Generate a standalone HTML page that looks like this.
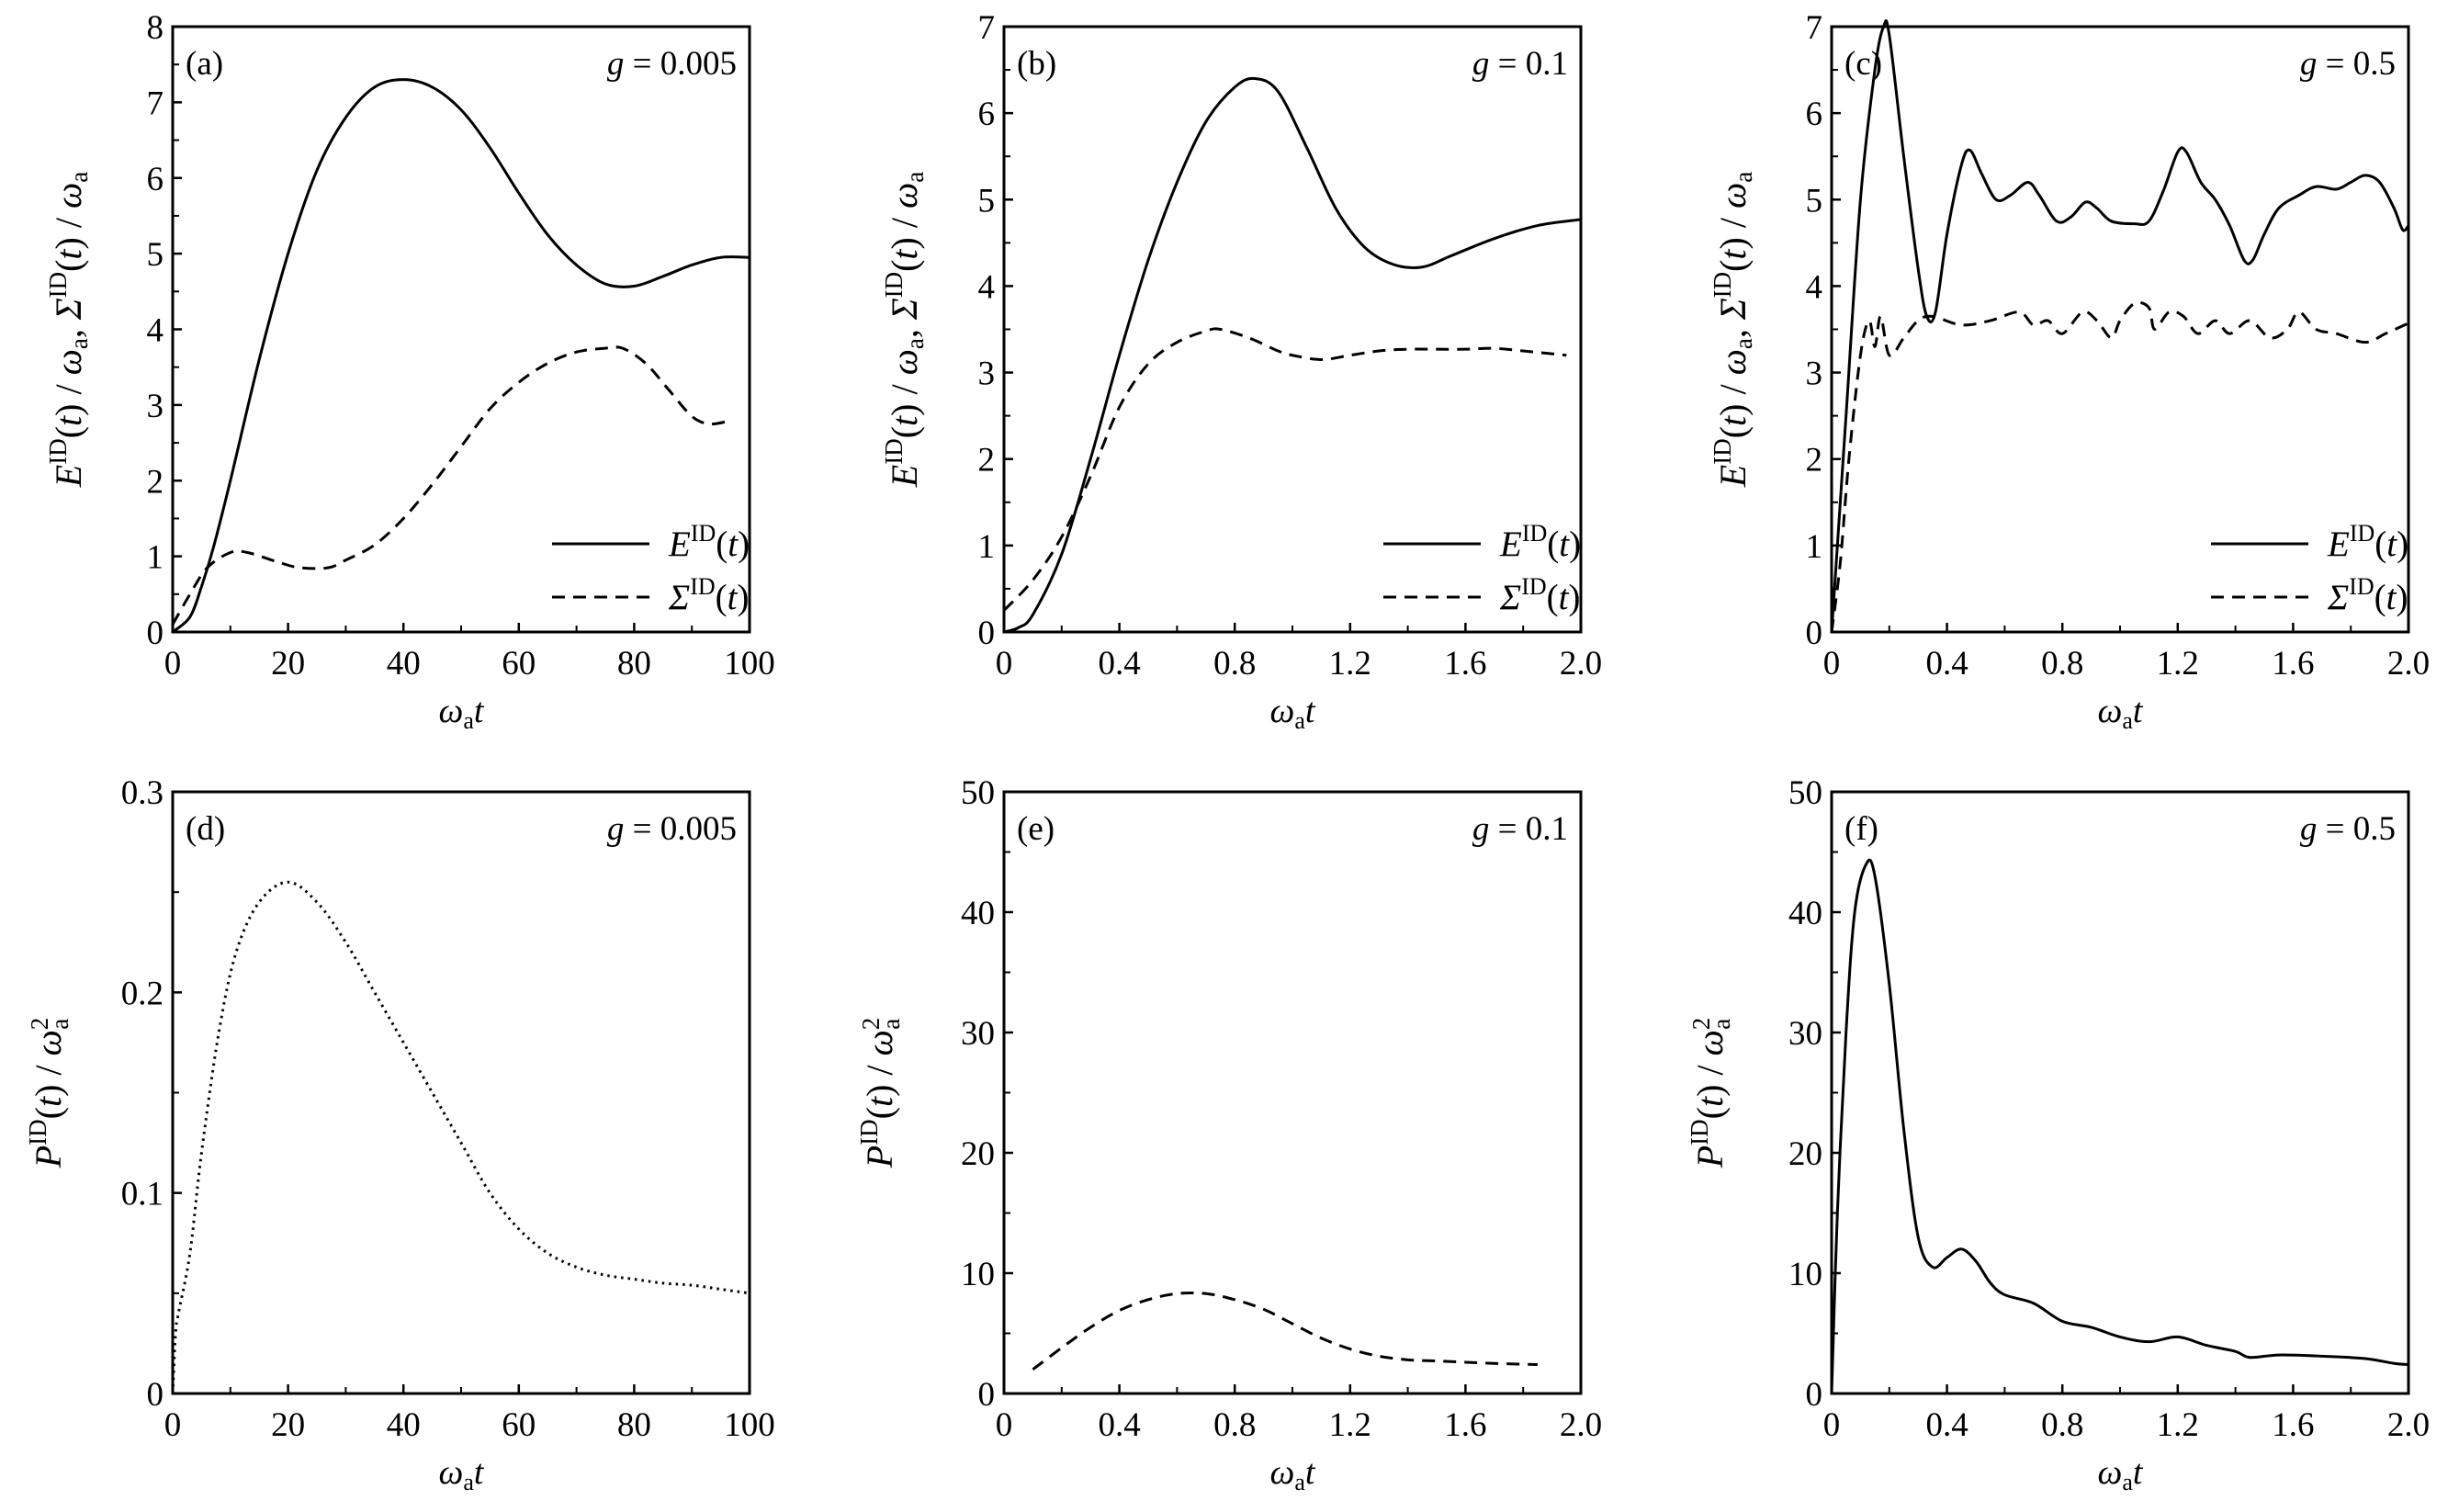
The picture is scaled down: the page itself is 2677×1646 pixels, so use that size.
<!DOCTYPE html>
<html><head><meta charset="utf-8"><style>
html,body{margin:0;padding:0;background:#fff}
svg{display:block;font-family:"Liberation Serif",serif}
</style></head><body>
<svg id="fig" width="2677" height="1646" viewBox="0 0 2677 1646" xmlns="http://www.w3.org/2000/svg"></svg>
<script>
// ---- data ----
const aEx=[0,3,5,7,10,15,20,25,30,35,40,45,50,55,60,65,70,75,80,85,90,95,100];
const aEy=[0,0.2,0.6,1.1,2.0,3.6,5.0,6.1,6.8,7.2,7.3,7.2,6.9,6.4,5.8,5.25,4.85,4.6,4.57,4.7,4.85,4.95,4.95];
const aSx=[0,3,6,10,13,18,22,27,30,35,40,45,50,55,60,65,70,75,78,82,86,90,93,96];
const aSy=[0.1,0.5,0.85,1.05,1.05,0.93,0.85,0.85,0.95,1.15,1.5,1.95,2.45,2.95,3.3,3.55,3.7,3.75,3.75,3.55,3.2,2.85,2.75,2.78];
const bEx=[0,0.05,0.1,0.2,0.3,0.4,0.5,0.6,0.7,0.8,0.87,0.95,1.05,1.15,1.25,1.35,1.45,1.55,1.7,1.85,2.0];
const bEy=[0,0.05,0.2,0.9,2.0,3.2,4.3,5.2,5.9,6.3,6.4,6.25,5.6,4.9,4.45,4.25,4.22,4.35,4.55,4.7,4.77];
const bSx=[0,0.1,0.2,0.3,0.4,0.5,0.6,0.7,0.75,0.85,0.95,1.0,1.1,1.2,1.3,1.4,1.5,1.6,1.7,1.8,1.95];
const bSy=[0.25,0.6,1.1,1.8,2.6,3.1,3.35,3.48,3.5,3.4,3.25,3.2,3.15,3.2,3.25,3.27,3.27,3.27,3.28,3.25,3.2];
const cEx=[0,0.05,0.1,0.15,0.18,0.2,0.25,0.3,0.33,0.36,0.4,0.45,0.48,0.52,0.57,0.62,0.68,0.72,0.78,0.83,0.88,0.92,0.97,1.05,1.1,1.15,1.2,1.23,1.28,1.33,1.38,1.43,1.46,1.5,1.55,1.62,1.68,1.75,1.8,1.85,1.9,1.95,1.98,2.0];
const cEy=[0,2.5,5.0,6.5,7.0,6.9,5.5,4.2,3.65,3.7,4.6,5.4,5.57,5.3,5.0,5.05,5.2,5.05,4.75,4.8,4.97,4.9,4.75,4.72,4.75,5.1,5.55,5.55,5.2,5.0,4.7,4.3,4.3,4.6,4.9,5.05,5.15,5.12,5.2,5.28,5.2,4.9,4.65,4.7];
const cSx=[0,0.03,0.06,0.1,0.13,0.15,0.17,0.2,0.25,0.3,0.35,0.45,0.55,0.65,0.7,0.75,0.8,0.87,0.92,0.97,1.0,1.05,1.1,1.12,1.17,1.22,1.27,1.33,1.38,1.45,1.52,1.58,1.62,1.68,1.75,1.85,1.92,2.0];
const cSy=[0,0.8,2.0,3.2,3.6,3.3,3.65,3.2,3.4,3.6,3.65,3.55,3.6,3.7,3.55,3.6,3.45,3.7,3.6,3.4,3.6,3.8,3.75,3.5,3.7,3.65,3.45,3.6,3.45,3.6,3.4,3.5,3.7,3.5,3.45,3.35,3.45,3.57];
const dPx=[0,0.5,1,3,5,8,11,15,20,25,30,35,40,45,50,55,60,65,70,75,80,85,90,95,100];
const dPy=[0,0.03,0.04,0.07,0.12,0.18,0.22,0.245,0.255,0.245,0.225,0.2,0.175,0.15,0.125,0.1,0.082,0.07,0.063,0.059,0.057,0.055,0.054,0.052,0.05];
const ePx=[0.1,0.2,0.3,0.4,0.5,0.6,0.7,0.8,0.9,1.0,1.1,1.2,1.3,1.4,1.5,1.6,1.7,1.85];
const ePy=[2.0,3.8,5.5,6.9,7.8,8.3,8.3,7.8,7.0,5.8,4.6,3.7,3.1,2.8,2.7,2.6,2.5,2.4];
const fPx=[0,0.02,0.05,0.08,0.12,0.15,0.2,0.25,0.3,0.35,0.4,0.45,0.5,0.55,0.6,0.7,0.8,0.9,1.0,1.1,1.2,1.3,1.4,1.45,1.55,1.7,1.85,1.95,2.0];
const fPy=[0,15,30,40,44,43,34,22,13,10.5,11.3,12,11,9.2,8.2,7.5,6.0,5.5,4.7,4.3,4.7,4.0,3.5,3.0,3.2,3.1,2.9,2.5,2.4];
const xTicksA=[0,20,40,60,80,100];
const xTicksB=[0,0.4,0.8,1.2,1.6,2.0];
const xLabB=["0","0.4","0.8","1.2","1.6","2.0"];

const NS="http://www.w3.org/2000/svg";
const svg=document.getElementById('fig');
function el(tag,attrs,parent){const e=document.createElementNS(NS,tag);for(const k in attrs)e.setAttribute(k,attrs[k]);(parent||svg).appendChild(e);return e;}
function smooth(pts){let d=`M${pts[0][0]},${pts[0][1]}`;for(let i=0;i<pts.length-1;i++){const p0=pts[i-1]||pts[i],p1=pts[i],p2=pts[i+1],p3=pts[i+2]||p2;
 const c1=[p1[0]+(p2[0]-p0[0])/6,p1[1]+(p2[1]-p0[1])/6],c2=[p2[0]-(p3[0]-p1[0])/6,p2[1]-(p3[1]-p1[1])/6];
 d+=` C${c1[0]},${c1[1]} ${c2[0]},${c2[1]} ${p2[0]},${p2[1]}`;}return d;}

const cols=[188,1093,1994], W=628;
const rows=[[29,688],[862,1517]];
const ylabX=[[88,998,1900],[66,971,1875]];
const FS=37;

function panel(opt){
 const g=el('g',{});
 
 
 const L=opt.x0,R=opt.x0+W,T=opt.y0,B=opt.y1;
 const sx=v=>L+(v-opt.xmin)/(opt.xmax-opt.xmin)*W;
 const sy=v=>B-(v-opt.ymin)/(opt.ymax-opt.ymin)*(B-T);
 const fr=el('rect',{x:L,y:T,width:W,height:B-T,fill:'none',stroke:'#000','stroke-width':3},g);
 
 opt.xt.forEach((v,i)=>{const X=sx(v);
  el('line',{x1:X,y1:B,x2:X,y2:B-10,stroke:'#000','stroke-width':2.5},g);
  const t=el('text',{x:X,y:B+46,'font-size':FS,'text-anchor':'middle'},g);t.textContent=opt.xl[i];
  
  if(i<opt.xt.length-1){const m=sx((v+opt.xt[i+1])/2);el('line',{x1:m,y1:B,x2:m,y2:B-7,stroke:'#000','stroke-width':2},g);}
 });
 opt.yt.forEach((v,i)=>{const Y=sy(v);
  el('line',{x1:L,y1:Y,x2:L+10,y2:Y,stroke:'#000','stroke-width':2.5},g);
  const t=el('text',{x:L-10,y:Y+13,'font-size':FS,'text-anchor':'end'},g);t.textContent=opt.yl[i];
  
  if(i<opt.yt.length-1){const m=sy((v+opt.yt[i+1])/2);el('line',{x1:L,y1:m,x2:L+7,y2:m,stroke:'#000','stroke-width':2},g);}
 });
 const xl=el('text',{x:(L+R)/2,y:B+98,'font-size':38,'text-anchor':'middle'},g);
 xl.innerHTML='<tspan font-style="italic">ω</tspan><tspan font-size="26" dy="7">a</tspan><tspan font-style="italic" dy="-7">t</tspan>';
 
 const yl=el('text',{x:0,y:0,'font-size':40,'text-anchor':'middle',transform:`translate(${opt.ylx},${(T+B)/2}) rotate(-90)`},g);
 yl.innerHTML=opt.ylab;
 
 const tg=el('text',{x:L+14,y:T+52,'font-size':37},g);tg.textContent='('+opt.id+')';
 
 const gl=el('text',{x:R-14,y:T+52,'font-size':37,'text-anchor':'end'},g);
 gl.innerHTML='<tspan font-style="italic">g</tspan> = '+opt.g;
 
 opt.series.forEach(s=>{
  const pts=s.x.map((v,i)=>[sx(v),sy(s.y[i])]);
  const p=el('path',{d:smooth(pts),fill:'none',stroke:'#000','stroke-width':3,'stroke-dasharray':s.dash||'none','stroke-linejoin':'round'},g);
  
  
 });
 if(opt.legend){
  const ys=[T+563,T+621];
  const lab=['<tspan font-style="italic">E</tspan><tspan font-size="26" dy="-16">ID</tspan><tspan dy="16">(</tspan><tspan font-style="italic">t</tspan>)',
             '<tspan font-style="italic">Σ</tspan><tspan font-size="26" dy="-16">ID</tspan><tspan dy="16">(</tspan><tspan font-style="italic">t</tspan>)'];
  const dashes=['none','14,9'];
  [0,1].forEach(i=>{
   const ln=el('line',{x1:L+413,y1:ys[i],x2:L+519,y2:ys[i],stroke:'#000','stroke-width':3,'stroke-dasharray':dashes[i]},g);
   
   const t=el('text',{x:L+540,y:ys[i]+13,'font-size':39},g);t.innerHTML=lab[i];
   
  });
 }
}
const eLab='<tspan font-style="italic">E</tspan><tspan font-size="27" dy="-16">ID</tspan><tspan dy="16">(</tspan><tspan font-style="italic">t</tspan>) / <tspan font-style="italic">ω</tspan><tspan font-size="27" dy="7">a</tspan><tspan dy="-7">,  </tspan><tspan font-style="italic">Σ</tspan><tspan font-size="27" dy="-16">ID</tspan><tspan dy="16">(</tspan><tspan font-style="italic">t</tspan>) / <tspan font-style="italic">ω</tspan><tspan font-size="27" dy="7">a</tspan>';
const pLab='<tspan font-style="italic">P</tspan><tspan font-size="27" dy="-16">ID</tspan><tspan dy="16">(</tspan><tspan font-style="italic">t</tspan>) / <tspan font-style="italic">ω</tspan><tspan font-size="27" dy="-14">2</tspan><tspan font-size="27" dx="-13" dy="22">a</tspan>';
const r=(n,s)=>Array.from({length:n+1},(_,i)=>i*s);
const y8=r(8,1),y7=r(7,1),y3=[0,0.1,0.2,0.3],y50=r(5,10);
panel({id:'a',x0:cols[0],y0:rows[0][0],y1:rows[0][1],xmin:0,xmax:100,ymin:0,ymax:8,xt:xTicksA,xl:xTicksA.map(String),yt:y8,yl:y8.map(String),ylx:ylabX[0][0],ylab:eLab,g:'0.005',legend:true,
 series:[{x:aEx,y:aEy,name:'energy-line'},{x:aSx,y:aSy,dash:'14,9',name:'variance-line'}]});
panel({id:'b',x0:cols[1],y0:rows[0][0],y1:rows[0][1],xmin:0,xmax:2,ymin:0,ymax:7,xt:xTicksB,xl:xLabB,yt:y7,yl:y7.map(String),ylx:ylabX[0][1],ylab:eLab,g:'0.1',legend:true,
 series:[{x:bEx,y:bEy,name:'energy-line'},{x:bSx,y:bSy,dash:'14,9',name:'variance-line'}]});
panel({id:'c',x0:cols[2],y0:rows[0][0],y1:rows[0][1],xmin:0,xmax:2,ymin:0,ymax:7,xt:xTicksB,xl:xLabB,yt:y7,yl:y7.map(String),ylx:ylabX[0][2],ylab:eLab,g:'0.5',legend:true,
 series:[{x:cEx,y:cEy,name:'energy-line'},{x:cSx,y:cSy,dash:'14,9',name:'variance-line'}]});
panel({id:'d',x0:cols[0],y0:rows[1][0],y1:rows[1][1],xmin:0,xmax:100,ymin:0,ymax:0.3,xt:xTicksA,xl:xTicksA.map(String),yt:y3,yl:['0','0.1','0.2','0.3'],ylx:ylabX[1][0],ylab:pLab,g:'0.005',
 series:[{x:dPx,y:dPy,dash:'2.5,5',name:'power-line'}]});
panel({id:'e',x0:cols[1],y0:rows[1][0],y1:rows[1][1],xmin:0,xmax:2,ymin:0,ymax:50,xt:xTicksB,xl:xLabB,yt:y50,yl:y50.map(String),ylx:ylabX[1][1],ylab:pLab,g:'0.1',
 series:[{x:ePx,y:ePy,dash:'14,9',name:'power-line'}]});
panel({id:'f',x0:cols[2],y0:rows[1][0],y1:rows[1][1],xmin:0,xmax:2,ymin:0,ymax:50,xt:xTicksB,xl:xLabB,yt:y50,yl:y50.map(String),ylx:ylabX[1][2],ylab:pLab,g:'0.5',
 series:[{x:fPx,y:fPy,name:'power-line'}]});
</script>
</body></html>
